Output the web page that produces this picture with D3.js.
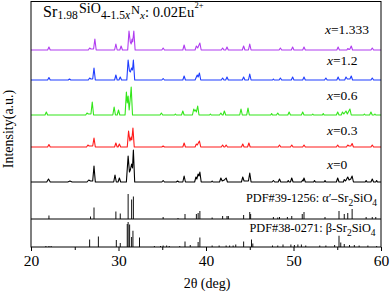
<!DOCTYPE html>
<html><head><meta charset="utf-8">
<script src="https://cdn.jsdelivr.net/npm/d3@7"></script>
<style>body{margin:0;background:#fff}svg{display:block}text{font-family:"Liberation Serif","Times New Roman",serif;fill:#000}</style>
</head><body><div id="chart"></div>
<script>
// ---- data ----
const xTicks = [20, 30, 40, 50, 60];
const xMinorTicks = [25, 35, 45, 55];
const sampleLabels = ["x=0", "x=0.3", "x=0.6", "x=1.2", "x=1.333"];
const sampleColors = ["#000000", "#ff1a1a", "#33e61a", "#1f3dff", "#b03cf0"];
const sampleOffsets = [65, 100, 132, 167, 197];

// [2theta, intensity] vertices
const trace_x0 = [[20,0],[21.8,0],[22.0,3],[22.2,0],[24.2,0],[24.45,1],[24.7,0],[26.4,0],[26.6,2],[26.8,1],[27.05,1],[27.2,16],[27.35,0],[29.45,0],[29.6,7],[29.75,0],[29.95,0],[30.1,4],[30.25,0],[30.9,0],[31.1,26],[31.25,10],[31.35,12],[31.5,18],[31.6,14],[31.7,32],[31.85,0],[34.95,0],[35.1,1.5],[35.25,0],[36.6,0],[36.75,1],[36.9,0],[37.35,0],[37.5,6],[37.65,0],[38.7,0],[38.85,5],[38.95,3],[39.1,8],[39.2,6],[39.3,10],[39.45,0],[40.6,0],[40.7,1],[40.8,0],[41.55,0],[41.7,4],[41.85,1],[42.1,2],[42.3,4],[42.45,0],[44.05,0],[44.2,5],[44.35,1],[44.85,1],[45.0,9],[45.15,0],[47.55,0],[47.7,1.5],[47.85,0],[48.25,0],[48.4,3],[48.55,0],[49.3,0],[49.4,1.5],[49.5,0],[49.65,0],[49.8,4],[49.95,0],[50.9,0],[51.05,2],[51.1,1],[51.2,4],[51.35,0],[52.3,0],[52.4,1.5],[52.5,0],[53.5,0],[53.6,1.5],[53.7,0],[54.9,0],[55.05,4],[55.2,0],[55.7,0],[55.8,2.5],[55.95,1],[56.2,5],[56.35,2],[56.55,3],[56.7,6],[56.85,0],[58.2,0],[58.3,1.5],[58.4,0],[58.85,0],[59.0,3],[59.15,0],[59.4,0],[59.5,1.5],[59.6,0],[60,0]];
const trace_x03 = [[20,0],[21.9,0],[22.05,2.5],[22.2,0],[26.35,0],[26.5,2],[26.65,1],[27.05,1],[27.2,9],[27.35,0],[29.55,0],[29.7,4],[29.85,0],[29.95,0],[30.1,3],[30.25,0],[31.0,0],[31.15,16],[31.3,6],[31.45,10],[31.52,7],[31.65,19],[31.8,0],[34.95,0],[35.1,1],[35.25,0],[37.35,0],[37.5,4],[37.65,0],[38.75,0],[38.9,3],[39.0,2],[39.25,6],[39.4,0],[41.75,0],[41.9,2],[42.05,0],[42.15,0],[42.3,2],[42.45,0],[44.05,0],[44.2,3],[44.35,0],[44.75,0],[44.9,4],[45.05,0],[48.25,0],[48.4,2],[48.55,0],[49.65,0],[49.8,2],[49.95,0],[51.05,0],[51.2,2],[51.35,0],[54.9,0],[55.05,2],[55.2,0],[56.05,0],[56.2,2],[56.35,1],[56.55,1],[56.7,3.5],[56.85,0],[58.85,0],[59.0,2],[59.15,0],[60,0]];
const trace_x06 = [[20,0],[21.6,0],[21.75,3],[21.9,0],[26.25,0],[26.4,2],[26.55,1],[26.85,1],[27.0,13],[27.15,0],[29.35,0],[29.5,8],[29.65,0],[29.85,0],[30.0,5],[30.15,0],[30.75,0],[30.9,23],[31.0,12],[31.1,19],[31.22,5],[31.38,20],[31.45,28],[31.6,0],[34.75,0],[34.9,2],[35.05,0],[36.4,0],[36.5,1],[36.6,0],[37.2,0],[37.35,4],[37.5,0],[38.45,0],[38.6,6],[38.7,4],[38.8,5],[38.9,3],[39.05,9],[39.2,0],[40.4,0],[40.5,1],[40.6,0],[41.55,0],[41.7,2],[41.85,0],[41.95,0],[42.1,4],[42.25,0],[43.85,0],[44.0,6],[44.15,0],[44.65,0],[44.8,7],[44.95,0],[47.4,0],[47.5,1.5],[47.6,0],[48.05,0],[48.2,2],[48.35,0],[49.35,0],[49.5,3],[49.65,0],[50.9,0],[51.05,3],[51.2,0],[52.1,0],[52.2,1],[52.3,0],[53.3,0],[53.4,1.5],[53.5,0],[54.9,0],[55.05,3],[55.2,0],[55.45,0],[55.6,3],[55.75,1],[56.0,4],[56.15,1],[56.45,6],[56.6,0],[58.0,0],[58.1,1],[58.2,0],[58.7,0],[58.85,3],[59.0,0],[59.2,0],[59.3,1],[59.4,0],[60,0]];
const trace_x12 = [[20,0],[21.9,0],[22.05,2.5],[22.2,0],[24.25,0],[24.4,1],[24.55,0],[26.55,0],[26.7,2],[26.85,1],[27.05,1],[27.2,12],[27.35,0],[29.55,0],[29.7,5],[29.85,0],[30.05,0],[30.2,3],[30.35,0],[30.95,0],[31.1,20],[31.25,9],[31.35,8],[31.5,12],[31.6,10],[31.7,20],[31.85,0],[34.95,0],[35.1,1.5],[35.25,0],[37.35,0],[37.5,4],[37.65,0],[38.75,0],[38.9,3],[39.0,5],[39.1,3],[39.25,7],[39.4,0],[41.75,0],[41.9,2],[42.05,0],[42.25,0],[42.4,3],[42.55,0],[44.15,0],[44.3,3],[44.45,0],[44.85,0],[45.0,6],[45.15,0],[47.6,0],[47.7,1],[47.8,0],[48.35,0],[48.5,2],[48.65,0],[49.75,0],[49.9,3],[50.05,0],[51.05,0],[51.2,3],[51.35,0],[53.55,0],[53.7,2],[53.85,0],[54.95,0],[55.1,3],[55.25,0],[55.85,0],[56.0,3],[56.15,1],[56.45,1],[56.6,4],[56.75,0],[58.85,0],[59.0,2],[59.15,0],[60,0]];
const trace_x1333 = [[20,0],[21.9,0],[22.05,3],[22.2,0],[26.55,0],[26.7,2],[26.85,1],[27.15,1],[27.3,11],[27.45,0],[29.55,0],[29.7,6],[29.85,0],[30.15,0],[30.3,4],[30.45,0],[31.05,0],[31.2,19],[31.35,8],[31.45,6],[31.55,11],[31.62,8],[31.75,19],[31.9,0],[34.95,0],[35.1,2],[35.25,0],[37.35,0],[37.5,5],[37.65,0],[38.75,0],[38.9,4],[39.05,2],[39.3,7],[39.45,0],[41.75,0],[41.9,2],[42.05,0],[42.25,0],[42.4,3],[42.55,0],[44.15,0],[44.3,4],[44.45,0],[44.85,0],[45.0,6],[45.15,0],[48.35,0],[48.5,2],[48.65,0],[49.75,0],[49.9,3],[50.05,0],[51.05,0],[51.2,3],[51.35,0],[54.95,0],[55.1,3],[55.25,0],[56.1,0],[56.2,1.5],[56.35,0.5],[56.45,1],[56.6,4],[56.75,0],[58.85,0],[59.0,2],[59.15,0],[60,0]];
const sampleTraces = [trace_x0, trace_x03, trace_x06, trace_x12, trace_x1333];

// reference patterns: [2theta, relative intensity]
const pdfAlphaLabel = "PDF#39-1256";
const pdfAlpha = [[22.05,14],[26.8,10],[27.2,46],[29.7,30],[30.2,22],[31.1,100],[31.5,78],[31.7,90],[35.1,8],[36.8,4],[37.6,20],[38.9,20],[39.1,24],[39.3,32],[40.7,6],[41.9,12],[42.4,12],[42.55,12],[44.3,16],[45.0,28],[45.1,20],[47.7,8],[48.2,6],[48.4,8],[49.3,8],[49.8,12],[51.0,20],[51.2,28],[53.6,8],[55.2,32],[55.8,20],[56.2,24],[56.7,40],[58.3,8],[59.0,8],[59.4,8]];
const pdfBetaLabel = "PDF#38-0271";
const pdfBeta = [[21.7,4],[22.05,4],[22.3,4],[26.7,30],[27.7,42],[29.75,28],[30.2,16],[31.0,92],[31.1,100],[31.27,90],[31.5,40],[31.65,65],[32.4,38],[34.1,4],[34.8,4],[35.1,6],[35.5,6],[35.8,4],[37.0,4],[37.6,22],[38.2,8],[39.1,20],[39.3,38],[40.7,6],[41.5,6],[42.3,6],[42.7,6],[43.1,6],[43.4,10],[44.3,22],[45.2,30],[45.35,14],[47.6,6],[48.2,6],[48.8,10],[49.7,10],[50.1,8],[50.5,10],[50.9,10],[51.4,6],[53.0,6],[53.7,6],[54.7,8],[55.2,45],[55.4,18],[55.8,12],[56.4,8],[56.95,8],[57.5,6],[58.5,6],[59.5,4]];
const pdfOffsets = [28, 0];

// ---- layout ----
const W = 391, H = 293;
const mLeft = 31, mRight = 381, mTop = 1.5, mBottom = 247;
const svg = d3.select("#chart").append("svg").attr("width", W).attr("height", H);

const x = d3.scaleLinear().domain([20, 60]).range([mLeft, mRight]);
const y = d3.scaleLinear().domain([0, mBottom - mTop]).range([mBottom, mTop]);
const bar = d3.scaleLinear().domain([0, 100]).range([0, 25]);

// traces
sampleTraces.forEach((tr, i) => {
  const line = d3.line().x(d => x(d[0])).y(d => y(d[1] + sampleOffsets[i]));
  svg.append("path")
    .attr("d", line(tr))
    .attr("fill", "none").attr("stroke", sampleColors[i])
    .attr("stroke-width", 1.1).attr("stroke-linejoin", "round");
});

// stick patterns
[pdfAlpha, pdfBeta].forEach((p, i) => {
  svg.append("g").selectAll("line").data(p).join("line")
    .attr("x1", d => x(d[0])).attr("x2", d => x(d[0]))
    .attr("y1", y(pdfOffsets[i])).attr("y2", d => y(pdfOffsets[i] + bar(d[1])))
    .attr("stroke", "#111").attr("stroke-width", 1);
});

// separator between reference panels
svg.append("line").attr("x1", mLeft).attr("x2", mRight)
  .attr("y1", y(pdfOffsets[0])).attr("y2", y(pdfOffsets[0]))
  .attr("stroke", "#000").attr("stroke-width", 1);

// frame
svg.append("rect").attr("x", mLeft).attr("y", mTop).attr("width", mRight - mLeft).attr("height", mBottom - mTop)
  .attr("fill", "none").attr("stroke", "#000").attr("stroke-width", 1);

// x axis
const ax = svg.append("g").attr("transform", `translate(0,${mBottom})`)
  .call(d3.axisBottom(x).tickValues(xTicks).tickSize(4).tickPadding(4).tickFormat(d3.format("d")));
ax.select(".domain").remove();
ax.selectAll("text").attr("font-size", 15.5).attr("font-family", "Liberation Serif").attr("fill", "#000");
ax.selectAll("line").attr("stroke", "#000");
svg.append("g").attr("transform", `translate(0,${mBottom})`)
  .call(d3.axisBottom(x).tickValues(xMinorTicks).tickSize(3).tickFormat(""))
  .call(g => g.select(".domain").remove());

// axis titles
svg.append("text").attr("x", 207).attr("y", 288).attr("text-anchor", "middle").attr("font-size", 14)
  .text("2θ (deg)");
svg.append("text").attr("transform", "translate(13.3,129) rotate(-90)").attr("text-anchor", "middle")
  .attr("font-size", 14).text("Intensity(a.u.)");

// sample labels
const labelY = [168.5, 135, 100, 65, 33.5];
const labelX = [327, 327, 327, 327, 325];
sampleLabels.forEach((s, i) => {
  const t = svg.append("text").attr("x", labelX[i]).attr("y", labelY[i]).attr("font-size", 13.5);
  t.append("tspan").attr("font-style", "italic").text("x");
  t.append("tspan").text(s.slice(1));
});

// reference labels
function refLabel(xp, yp, code, phase) {
  const t = svg.append("text").attr("x", xp).attr("y", yp).attr("font-size", 12.3);
  t.append("tspan").text(code + ": " + phase + "Sr");
  t.append("tspan").attr("font-size", 9.5).attr("dy", 4).text("2");
  t.append("tspan").attr("dy", -4).text("SiO");
  t.append("tspan").attr("font-size", 9.5).attr("dy", 4).text("4");
}
refLabel(246, 201.5, pdfAlphaLabel, "α′–");
refLabel(249.5, 232, pdfBetaLabel, "β-");

// title
const title = svg.append("text").attr("font-size", 15);
[["Sr", 43, 16.7, 16, null], ["1.98", 57.5, 19.3, 11.5, null], ["SiO", 79, 13, 14, null],
 ["4-1.5", 101, 19.3, 11.5, null], ["x", 125, 19.3, 11.5, "italic"], ["N", 131, 13.8, 12.5, null],
 ["x", 140, 19.3, 11, "italic"], [": 0.02Eu", 145, 16.7, 14.5, null], ["2+", 194.5, 7.5, 8.5, null]]
  .forEach(([s, xp, yp, fs, st]) => {
    const ts = title.append("tspan").attr("x", xp).attr("y", yp).attr("font-size", fs).text(s);
    if (st) ts.attr("font-style", st);
  });
</script></body></html>
